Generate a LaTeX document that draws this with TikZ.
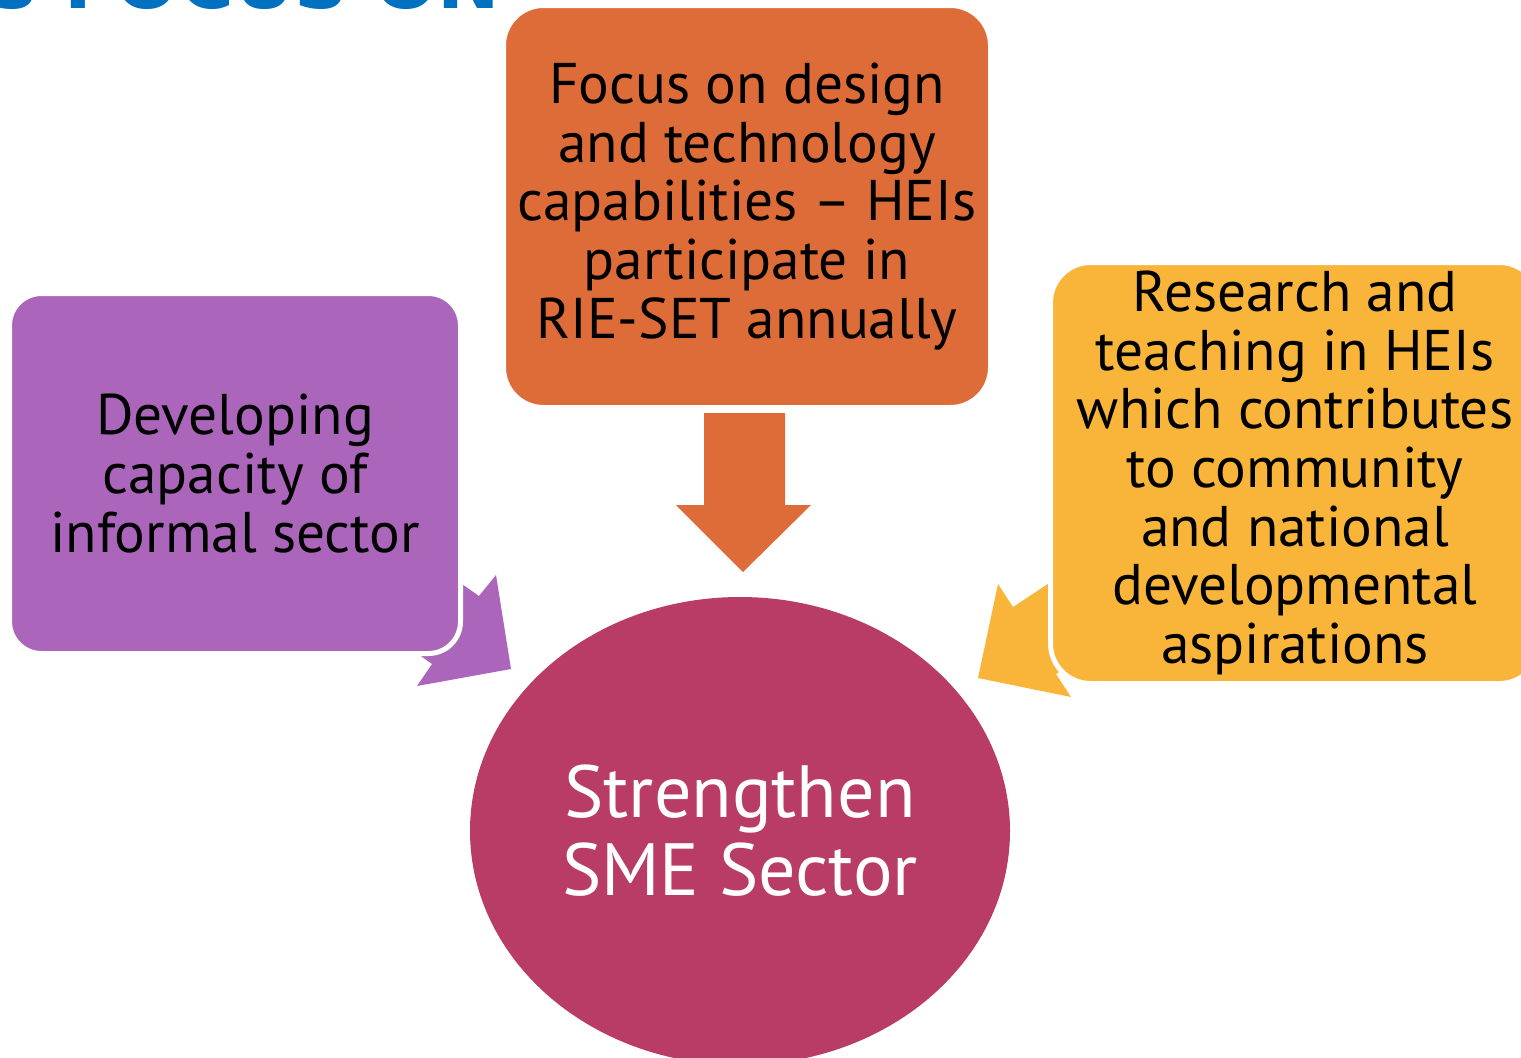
\documentclass[tikz,border=0pt]{standalone}
\usepackage{fontspec}
\setmainfont{PT Sans}
\newfontfamily\titlefont{DejaVu Sans}
\usetikzlibrary{shapes.geometric}

\definecolor{boxpurple}{RGB}{171,102,188}
\definecolor{boxorange}{RGB}{222,108,56}
\definecolor{boxyellow}{RGB}{248,181,58}
\definecolor{smered}{RGB}{185,60,102}
\definecolor{titleblue}{RGB}{0,112,192}

\tikzset{every picture/.style={line width=0.75pt}}
\tikzset{
  focusbox/.style={draw=white, line width=3.75pt, align=center, inner sep=0pt,
    font=\fontsize{43}{44}\selectfont},
  smeellipse/.style={ellipse, fill=smered, align=center, inner sep=0pt, text=white,
    font=\fontsize{55.5}{58.5}\selectfont}
}

\begin{document}
\begin{tikzpicture}[x=0.75pt,y=0.75pt,yscale=-1,xscale=1]
	\useasboundingbox (0,0) rectangle (1521,1057);
	\clip (0,0) rectangle (1521,1057);

	% Text Node (cut off title)
	\node [anchor=base east, inner sep=0pt, text=titleblue, font=\titlefont\bfseries\fontsize{56}{60}\selectfont] (title) at (501,8) {S FOCUS ON};

	%Shape: Arrow [purple]
	\fill [boxpurple] (511,669) -- (417,686) -- (432,664) -- (382,628) -- (429,561) -- (479,596) -- (496,575) -- cycle ;
	%Shape: Arrow [yellow]
	\fill [boxyellow] (978,678) -- (998,584) -- (1013,607) -- (1063,574) -- (1106,641) -- (1056,674) -- (1071,697) -- cycle ;
	%Shape: Arrow [orange]
	\fill [boxorange] (704,413) -- (785,413) -- (785,505) -- (811,505) -- (743,572) -- (676,505) -- (704,505) -- cycle ;

	%Shape: Rounded Rect [design]
	\node [focusbox, fill=boxorange, rounded corners=30pt, minimum width=365.25pt, minimum height=301.5pt] (design) at (747,206.5) {Focus on design\\and technology\\capabilities -- HEIs\\participate in\\RIE-SET annually};
	%Shape: Rounded Rect [informal]
	\node [focusbox, fill=boxpurple, rounded corners=24pt, minimum width=338.25pt, minimum height=270pt] (informal) at (235,473.5) {Developing\\capacity of\\informal sector};
	%Shape: Rounded Rect [research]
	\node [focusbox, fill=boxyellow, rounded corners=30pt, minimum width=366.75pt, minimum height=315.75pt] (research) at (1295,473) {Research and\\teaching in HEIs\\which contributes\\to community\\and national\\developmental\\aspirations};

	%Shape: Ellipse [sme]
	\node [smeellipse, minimum width=405pt, minimum height=351pt] (sme) at (740,831) {Strengthen\\SME Sector};

\end{tikzpicture}
\end{document}
